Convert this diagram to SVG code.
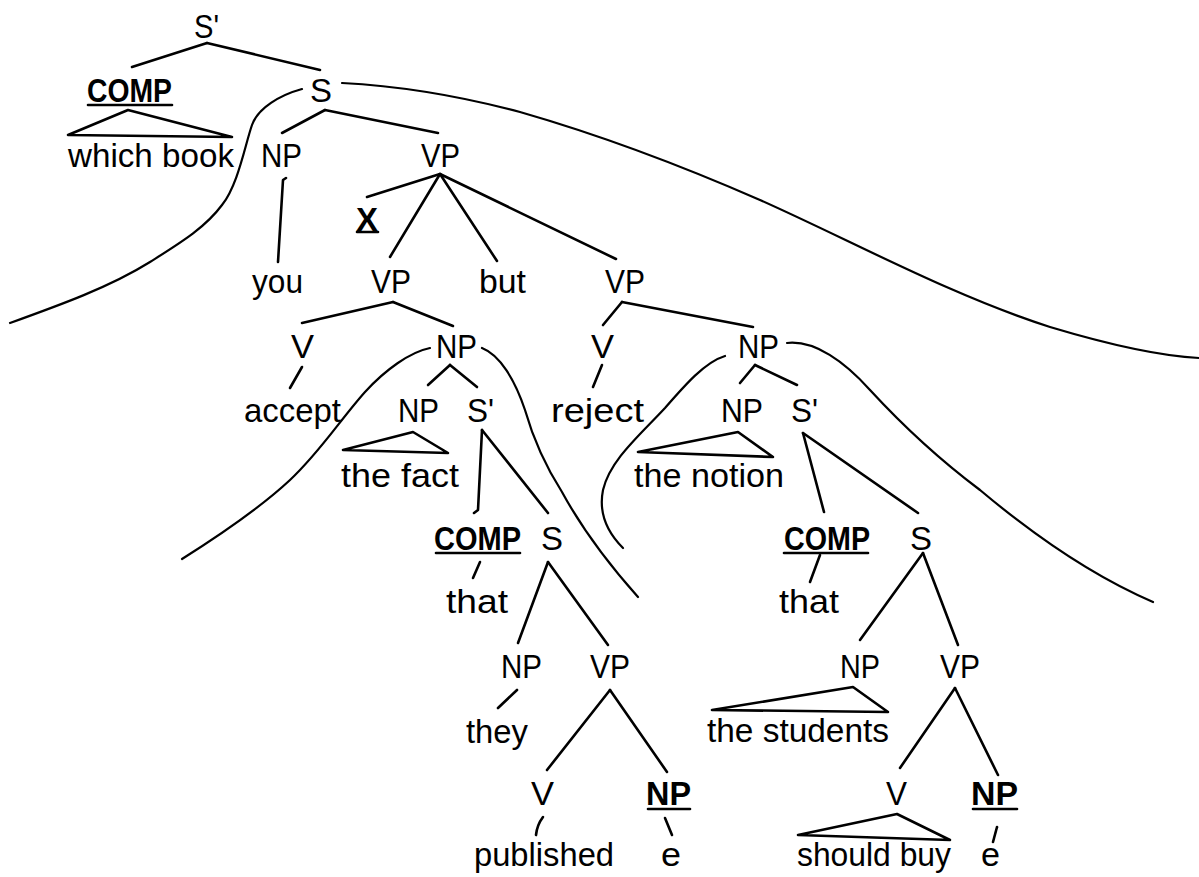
<svg xmlns="http://www.w3.org/2000/svg" width="1199" height="877" viewBox="0 0 1199 877">
  <style>
    text { font-family: "Liberation Sans", Arial, sans-serif; font-size: 33px; fill: #000; }
    .b { font-weight: bold; }
    .ln { stroke: #000; stroke-width: 2.6; fill: none; stroke-linecap: round; stroke-linejoin: round; }
    .cv { stroke: #000; stroke-width: 2.2; fill: none; stroke-linecap: round; }
  </style>
  <rect width="1199" height="877" fill="#fff"/>

  <!-- tree branches, triangles and bracketing curves -->
  <g id="connectors">
    <path class="cv" d="M302,89 C280,95 258,108 252,125 C245,145 238,185 222,205 C205,228 180,243 150,262 C110,287 60,305 10,323"/>
    <path class="cv" d="M342,83 C400,86 460,96 520,112 C600,135 680,165 760,200 C850,240 950,295 1050,327 C1110,345 1160,356 1199,358"/>
    <path class="cv" d="M430,348 C410,352 385,370 365,392 C340,420 320,452 290,480 C260,508 220,535 182,559"/>
    <path class="cv" d="M482,348 C500,355 515,380 525,410 C535,445 548,470 562,492 C580,525 605,560 638,597"/>
    <path class="cv" d="M725,356 C705,362 685,385 665,408 C640,435 610,460 603,490 C598,515 610,535 623,548"/>
    <path class="cv" d="M787,343 C815,340 845,362 870,390 C905,428 940,460 980,490 C1030,532 1090,575 1153,602"/>

    <line class="ln" x1="207" y1="43" x2="132" y2="67"/>
    <line class="ln" x1="207" y1="43" x2="320" y2="70"/>
    <path class="ln" d="M128,110 L68,135 L232,137 Z"/>
    <line class="ln" x1="325" y1="110" x2="282" y2="133"/>
    <line class="ln" x1="325" y1="110" x2="438" y2="133"/>
    <path class="ln" d="M286,178 L283,180 L278,262"/>
    <line class="ln" x1="440" y1="174" x2="367" y2="197"/>
    <line class="ln" x1="440" y1="174" x2="390" y2="257"/>
    <line class="ln" x1="440" y1="174" x2="497" y2="261"/>
    <line class="ln" x1="440" y1="174" x2="616" y2="259"/>
    <line class="ln" x1="393" y1="302" x2="302" y2="323"/>
    <line class="ln" x1="393" y1="302" x2="453" y2="326"/>
    <line class="ln" x1="302" y1="367" x2="290" y2="388"/>
    <line class="ln" x1="450" y1="365" x2="428" y2="385"/>
    <line class="ln" x1="450" y1="365" x2="477" y2="387"/>
    <path class="ln" d="M413,432 L343,450 L448,453 Z"/>
    <path class="ln" d="M482,430 L478,510 L474,513"/>
    <line class="ln" x1="482" y1="430" x2="548" y2="513"/>
    <line class="ln" x1="622" y1="302" x2="603" y2="325"/>
    <line class="ln" x1="622" y1="302" x2="753" y2="327"/>
    <line class="ln" x1="602" y1="365" x2="593" y2="387"/>
    <line class="ln" x1="755" y1="365" x2="740" y2="383"/>
    <line class="ln" x1="755" y1="365" x2="797" y2="385"/>
    <path class="ln" d="M738,432 L638,452 L773,457 Z"/>
    <line class="ln" x1="803" y1="433" x2="824" y2="512"/>
    <line class="ln" x1="803" y1="433" x2="918" y2="513"/>
    <line class="ln" x1="480" y1="562" x2="473" y2="578"/>
    <line class="ln" x1="820" y1="555" x2="810" y2="582"/>
    <line class="ln" x1="548" y1="562" x2="518" y2="643"/>
    <line class="ln" x1="548" y1="562" x2="608" y2="645"/>
    <line class="ln" x1="923" y1="553" x2="860" y2="640"/>
    <line class="ln" x1="923" y1="553" x2="958" y2="645"/>
    <line class="ln" x1="517" y1="690" x2="498" y2="708"/>
    <line class="ln" x1="610" y1="690" x2="547" y2="770"/>
    <line class="ln" x1="610" y1="690" x2="667" y2="772"/>
    <path class="ln" d="M543,817 Q537,825 536,835"/>
    <line class="ln" x1="665" y1="818" x2="672" y2="835"/>
    <path class="ln" d="M853,687 L712,710 L888,712 Z"/>
    <line class="ln" x1="955" y1="688" x2="900" y2="768"/>
    <line class="ln" x1="955" y1="688" x2="998" y2="775"/>
    <path class="ln" d="M897,814 L798,835 L950,840 Z"/>
    <line class="ln" x1="997" y1="827" x2="993" y2="842"/>
  </g>

  <!-- nodes -->
  <g id="n-sbar-top"><text x="194" y="38" textLength="25" lengthAdjust="spacingAndGlyphs">S'</text></g>
  <g id="n-comp-top"><text class="b" x="87" y="102" textLength="85" lengthAdjust="spacingAndGlyphs">COMP</text><line class="ln" x1="88" y1="105" x2="172" y2="105"/></g>
  <g id="n-s-top"><text x="310" y="102" textLength="22" lengthAdjust="spacingAndGlyphs">S</text></g>
  <g id="n-which-book"><text x="68" y="167" textLength="166" lengthAdjust="spacingAndGlyphs">which book</text></g>
  <g id="n-np-subj"><text x="261" y="167" textLength="41" lengthAdjust="spacingAndGlyphs">NP</text></g>
  <g id="n-vp-top"><text x="421" y="167" textLength="39" lengthAdjust="spacingAndGlyphs">VP</text></g>
  <g id="n-x"><text class="b" x="356" y="231" textLength="22" lengthAdjust="spacingAndGlyphs">X</text><line class="ln" x1="357" y1="232" x2="378" y2="232"/></g>
  <g id="n-you"><text x="252" y="293" textLength="51" lengthAdjust="spacingAndGlyphs">you</text></g>
  <g id="n-vp-left"><text x="371" y="293" textLength="40" lengthAdjust="spacingAndGlyphs">VP</text></g>
  <g id="n-but"><text x="479" y="293" textLength="47" lengthAdjust="spacingAndGlyphs">but</text></g>
  <g id="n-vp-right"><text x="605" y="293" textLength="40" lengthAdjust="spacingAndGlyphs">VP</text></g>

  <g id="n-v-accept"><text x="291" y="358" textLength="23" lengthAdjust="spacingAndGlyphs">V</text></g>
  <g id="n-np-fact"><text x="436" y="358" textLength="41" lengthAdjust="spacingAndGlyphs">NP</text></g>
  <g id="n-accept"><text x="244" y="422" textLength="97" lengthAdjust="spacingAndGlyphs">accept</text></g>
  <g id="n-np-thefact"><text x="398" y="422" textLength="41" lengthAdjust="spacingAndGlyphs">NP</text></g>
  <g id="n-sbar-fact"><text x="467" y="422" textLength="27" lengthAdjust="spacingAndGlyphs">S'</text></g>
  <g id="n-the-fact"><text x="341" y="487" textLength="118" lengthAdjust="spacingAndGlyphs">the fact</text></g>
  <g id="n-comp-fact"><text class="b" x="434" y="550" textLength="87" lengthAdjust="spacingAndGlyphs">COMP</text><line class="ln" x1="436" y1="553" x2="520" y2="553"/></g>
  <g id="n-s-fact"><text x="541" y="550" textLength="22" lengthAdjust="spacingAndGlyphs">S</text></g>
  <g id="n-that-fact"><text x="446" y="613" textLength="62" lengthAdjust="spacingAndGlyphs">that</text></g>
  <g id="n-np-they"><text x="501" y="678" textLength="41" lengthAdjust="spacingAndGlyphs">NP</text></g>
  <g id="n-vp-published"><text x="590" y="678" textLength="40" lengthAdjust="spacingAndGlyphs">VP</text></g>
  <g id="n-they"><text x="466" y="743" textLength="62" lengthAdjust="spacingAndGlyphs">they</text></g>
  <g id="n-v-published"><text x="531" y="805" textLength="23" lengthAdjust="spacingAndGlyphs">V</text></g>
  <g id="n-np-gap1"><text class="b" x="646" y="805" textLength="45" lengthAdjust="spacingAndGlyphs">NP</text><line class="ln" x1="648" y1="809" x2="690" y2="809"/></g>
  <g id="n-published"><text x="474" y="866" textLength="140" lengthAdjust="spacingAndGlyphs">published</text></g>
  <g id="n-e1"><text x="661" y="866" textLength="20" lengthAdjust="spacingAndGlyphs">e</text></g>

  <g id="n-v-reject"><text x="591" y="358" textLength="23" lengthAdjust="spacingAndGlyphs">V</text></g>
  <g id="n-np-notion"><text x="738" y="358" textLength="41" lengthAdjust="spacingAndGlyphs">NP</text></g>
  <g id="n-reject"><text x="551" y="422" textLength="93" lengthAdjust="spacingAndGlyphs">reject</text></g>
  <g id="n-np-thenotion"><text x="721" y="422" textLength="42" lengthAdjust="spacingAndGlyphs">NP</text></g>
  <g id="n-sbar-notion"><text x="791" y="422" textLength="27" lengthAdjust="spacingAndGlyphs">S'</text></g>
  <g id="n-the-notion"><text x="634" y="487" textLength="150" lengthAdjust="spacingAndGlyphs">the notion</text></g>
  <g id="n-comp-notion"><text class="b" x="784" y="550" textLength="86" lengthAdjust="spacingAndGlyphs">COMP</text><line class="ln" x1="784" y1="553" x2="868" y2="553"/></g>
  <g id="n-s-notion"><text x="910" y="550" textLength="22" lengthAdjust="spacingAndGlyphs">S</text></g>
  <g id="n-that-notion"><text x="779" y="613" textLength="60" lengthAdjust="spacingAndGlyphs">that</text></g>
  <g id="n-np-students"><text x="840" y="678" textLength="40" lengthAdjust="spacingAndGlyphs">NP</text></g>
  <g id="n-vp-buy"><text x="940" y="678" textLength="40" lengthAdjust="spacingAndGlyphs">VP</text></g>
  <g id="n-the-students"><text x="707" y="742" textLength="182" lengthAdjust="spacingAndGlyphs">the students</text></g>
  <g id="n-v-buy"><text x="886" y="805" textLength="21" lengthAdjust="spacingAndGlyphs">V</text></g>
  <g id="n-np-gap2"><text class="b" x="971" y="805" textLength="47" lengthAdjust="spacingAndGlyphs">NP</text><line class="ln" x1="973" y1="809" x2="1017" y2="809"/></g>
  <g id="n-should-buy"><text x="797" y="866" textLength="154" lengthAdjust="spacingAndGlyphs">should buy</text></g>
  <g id="n-e2"><text x="981" y="866" textLength="19" lengthAdjust="spacingAndGlyphs">e</text></g>
</svg>
